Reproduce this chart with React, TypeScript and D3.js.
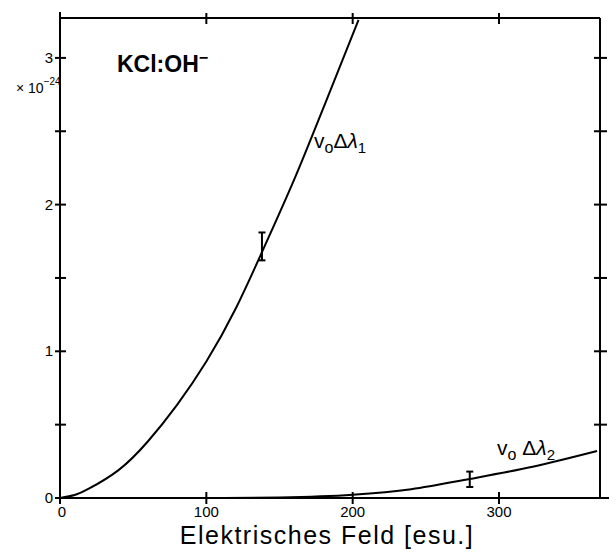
import React from "react";
import * as d3 from "d3";

const curve1: [number, number][] = [
  [0, 0], [10, 0.02], [20, 0.065], [40, 0.19], [60, 0.385], [80, 0.635], [100, 0.93], [120, 1.29],
  [140, 1.72], [160, 2.17], [180, 2.66], [204, 3.26],
];
const curve2: [number, number][] = [
  [0, 0], [100, 0], [150, 0.004], [200, 0.022], [240, 0.06], [280, 0.13], [323, 0.213], [367, 0.32],
];
const errorBars = [
  { x: 138, lo: 1.62, hi: 1.81 },
  { x: 280, lo: 0.075, hi: 0.18 },
];
const xTicks = [0, 100, 200, 300];
const yTicks = [0, 1, 2, 3];
const yMinorTicks = [0.5, 1.5, 2.5];

export default function App() {
  const W = 616, H = 552;
  const x = d3.scaleLinear().domain([0, 369]).range([60, 600]);
  const y = d3.scaleLinear().domain([0, 3.272]).range([498, 18]);
  const line1 = d3.line<[number, number]>().x(d => x(d[0])).y(d => y(d[1])).curve(d3.curveNatural);
  const line2 = d3.line<[number, number]>().x(d => x(d[0])).y(d => y(d[1])).curve(d3.curveMonotoneX);
  const font = "'Liberation Sans', Arial, sans-serif";
  const allY = [...yTicks, ...yMinorTicks];
  return (
    <svg width={W} height={H} style={{ position: "absolute", left: 0, top: 0, background: "#fff" }} fontFamily={font}>
      <rect x={0} y={0} width={W} height={H} fill="#fff" />
      <g stroke="#000" strokeWidth={2} fill="none">
        <line x1={x(0)} x2={x(0)} y1={12} y2={y(0) + 1} />
        <line x1={x(0)} x2={x(369)} y1={y(3.272)} y2={y(3.272)} />
        <line x1={x(369)} x2={x(369)} y1={y(3.272)} y2={y(0)} />
        <line x1={x(0) - 5} x2={x(369) + 9} y1={y(0)} y2={y(0)} />
        {allY.map(v => (
          <line key={"l" + v} x1={x(0) - 5} x2={x(0) + 6} y1={y(v)} y2={y(v)} />
        ))}
        {allY.filter(v => v > 0).map(v => (
          <line key={"r" + v} x1={x(369) - 6} x2={x(369) + 7} y1={y(v)} y2={y(v)} />
        ))}
        {xTicks.map(v => (
          <line key={"b" + v} x1={x(v)} x2={x(v)} y1={y(0) - 6} y2={y(0) + 6} />
        ))}
        {xTicks.map(v => (
          <line key={"t" + v} x1={x(v)} x2={x(v)} y1={y(3.272) - 5} y2={y(3.272) + 6} />
        ))}
      </g>
      <g fontSize={15} fill="#000">
        {yTicks.map(v => (
          <text key={"yl" + v} x={53} y={y(v) + 5} textAnchor="end">{v}</text>
        ))}
        {xTicks.map(v => (
          <text key={"xl" + v} x={x(v) + (v === 0 ? 2 : 0)} y={517} textAnchor="middle">{v}</text>
        ))}
      </g>
      <text x={16} y={93} fontSize={14} fill="#000">
        × 10<tspan dy={-8} fontSize={10}>−24</tspan>
      </text>
      <text x={327} y={544} fontSize={25} letterSpacing={1.5} textAnchor="middle" fill="#000">Elektrisches Feld [esu.]</text>
      <text x={117} y={72} fontSize={23} fontWeight="bold" fill="#000">
        KCl:OH<tspan dy={-9} fontSize={16}>−</tspan>
      </text>
      <g fill="none" stroke="#000" strokeWidth={2}>
        <path d={line1(curve1) || ""} />
        <path d={line2(curve2) || ""} />
        {errorBars.map((e, i) => (
          <g key={i}>
            <line x1={x(e.x)} x2={x(e.x)} y1={y(e.hi)} y2={y(e.lo)} />
            <line x1={x(e.x) - 3.5} x2={x(e.x) + 3.5} y1={y(e.hi)} y2={y(e.hi)} />
            <line x1={x(e.x) - 3.5} x2={x(e.x) + 3.5} y1={y(e.lo)} y2={y(e.lo)} />
          </g>
        ))}
      </g>
      <text x={314} y={148} fontSize={21} fill="#000">
        v<tspan dy={5} fontSize={16}>o</tspan><tspan dy={-5}>Δ</tspan><tspan fontStyle="italic">λ</tspan><tspan dy={5} fontSize={15}>1</tspan>
      </text>
      <text x={497} y={455} fontSize={21} fill="#000">
        v<tspan dy={5} fontSize={16}>o</tspan><tspan dy={-5}> Δ</tspan><tspan fontStyle="italic">λ</tspan><tspan dy={5} fontSize={15}>2</tspan>
      </text>
    </svg>
  );
}
